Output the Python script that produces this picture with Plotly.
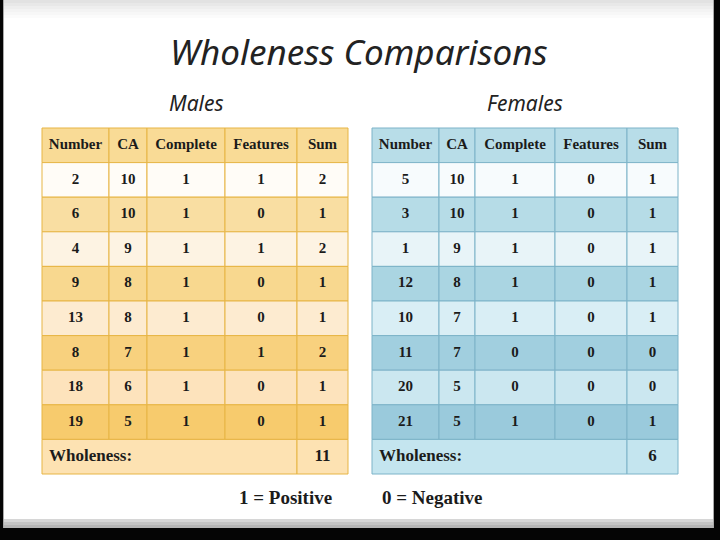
import plotly.graph_objects as go

# ---------------- data ----------------
columns = ["Number", "CA", "Complete", "Features", "Sum"]

male_number = [2, 6, 4, 9, 13, 8, 18, 19]
male_ca = [10, 10, 9, 8, 8, 7, 6, 5]
male_complete = [1, 1, 1, 1, 1, 1, 1, 1]
male_features = [1, 0, 1, 0, 0, 1, 0, 0]
male_sum = [2, 1, 2, 1, 1, 2, 1, 1]
male_wholeness = 11

female_number = [5, 3, 1, 12, 10, 11, 20, 21]
female_ca = [10, 10, 9, 8, 7, 7, 5, 5]
female_complete = [1, 1, 1, 1, 1, 0, 0, 1]
female_features = [0, 0, 0, 0, 0, 0, 0, 0]
female_sum = [1, 1, 1, 1, 1, 0, 0, 1]
female_wholeness = 6

title_text = "Wholeness Comparisons"
male_label = "Males"
female_label = "Females"
wholeness_label = "Wholeness:"
positive_note = "1 = Positive"
negative_note = "0 = Negative"

# ---------------- styles / layout ----------------
W, H = 720, 540
TOP = 128.0
ROW_H = 34.6
male_edges = [42, 109, 147, 225, 297, 348]
female_edges = [372, 439, 475, 555, 627, 678]

male_style = dict(
    header="#f9db96",
    rows=["#fffcf7", "#f9dea2", "#fdf3e3", "#f8d88f", "#fdebd0", "#f8d17e",
          "#fde3bc", "#f7cb6d"],
    total="#fde2b2",
    line="#e7b545",
)
female_style = dict(
    header="#b8dde8",
    rows=["#f7fbfd", "#b6dce7", "#e8f4f8", "#aad5e2", "#d9eef5", "#a1cfdf",
          "#cbe7f0", "#9acadc"],
    total="#c4e5ef",
    line="#7db3c8",
)

TEXT_FONT = "Liberation Serif"
TEXT_COLOR = "#1b1b1b"

fig = go.Figure()
shapes = []

# slide frame
shapes.append(dict(type="rect", xref="paper", yref="paper", x0=0, x1=1, y0=0, y1=1,
                   fillcolor="#050505", line=dict(width=0), layer="below"))
shapes.append(dict(type="rect", xref="x", yref="y", x0=3, x1=714, y0=0, y1=528,
                   fillcolor="#a9a9a9", line=dict(width=0), layer="below"))
shapes.append(dict(type="rect", xref="x", yref="y", x0=4, x1=713, y0=0, y1=522,
                   fillcolor="#ffffff", line=dict(width=0), layer="below"))
# top gray fade
fade = ["#e2e2e2", "#e8e8e8", "#eeeeee", "#f3f3f3", "#f7f7f7", "#fbfbfb"]
for i, c in enumerate(fade):
    shapes.append(dict(type="rect", xref="x", yref="y", x0=4, x1=713,
                       y0=i * 3, y1=i * 3 + 3, fillcolor=c, line=dict(width=0),
                       layer="below"))
# bottom shading
bot = ["#d6d6d6", "#c4c4c4", "#b5b5b5"]
for i, c in enumerate(bot):
    shapes.append(dict(type="rect", xref="x", yref="y", x0=4, x1=713,
                       y0=519 + i * 3, y1=522 + i * 3, fillcolor=c,
                       line=dict(width=0), layer="below"))


def draw_table(edges, style, cols, wholeness):
    nrows = len(cols[0])
    tx, ty, tt = [], [], []
    # header
    for c in range(5):
        y0 = TOP
        shapes.append(dict(type="rect", xref="x", yref="y", x0=edges[c], x1=edges[c + 1],
                           y0=y0, y1=y0 + ROW_H, fillcolor=style["header"],
                           line=dict(color=style["line"], width=1), layer="below"))
        tx.append((edges[c] + edges[c + 1]) / 2)
        ty.append(y0 + ROW_H / 2)
        tt.append(columns[c])
    # body
    for r in range(nrows):
        y0 = TOP + (r + 1) * ROW_H
        for c in range(5):
            shapes.append(dict(type="rect", xref="x", yref="y", x0=edges[c],
                               x1=edges[c + 1], y0=y0, y1=y0 + ROW_H,
                               fillcolor=style["rows"][r],
                               line=dict(color=style["line"], width=1), layer="below"))
            tx.append((edges[c] + edges[c + 1]) / 2)
            ty.append(y0 + ROW_H / 2)
            tt.append(str(cols[c][r]))
    # total row
    y0 = TOP + (nrows + 1) * ROW_H
    shapes.append(dict(type="rect", xref="x", yref="y", x0=edges[0], x1=edges[4],
                       y0=y0, y1=y0 + ROW_H, fillcolor=style["total"],
                       line=dict(color=style["line"], width=1), layer="below"))
    shapes.append(dict(type="rect", xref="x", yref="y", x0=edges[4], x1=edges[5],
                       y0=y0, y1=y0 + ROW_H, fillcolor=style["total"],
                       line=dict(color=style["line"], width=1), layer="below"))
    fig.add_trace(go.Scatter(x=tx, y=ty, text=tt, mode="text",
                             textfont=dict(family=TEXT_FONT, size=15, color=TEXT_COLOR,
                                           weight="bold"),
                             hoverinfo="skip", showlegend=False))
    fig.add_trace(go.Scatter(x=[edges[0] + 7], y=[y0 + ROW_H / 2], text=[wholeness_label],
                             mode="text", textposition="middle right",
                             textfont=dict(family=TEXT_FONT, size=17, color=TEXT_COLOR,
                                           weight="bold"),
                             hoverinfo="skip", showlegend=False))
    fig.add_trace(go.Scatter(x=[(edges[4] + edges[5]) / 2], y=[y0 + ROW_H / 2],
                             text=[str(wholeness)], mode="text",
                             textfont=dict(family=TEXT_FONT, size=17, color=TEXT_COLOR,
                                           weight="bold"),
                             hoverinfo="skip", showlegend=False))


draw_table(male_edges, male_style,
           [male_number, male_ca, male_complete, male_features, male_sum], male_wholeness)
draw_table(female_edges, female_style,
           [female_number, female_ca, female_complete, female_features, female_sum],
           female_wholeness)

annotations = [
    dict(x=359, y=51, text=title_text, showarrow=False, xref="x", yref="y",
         font=dict(family="Noto Sans", size=35, color="#222222", style="italic")),
    dict(x=196, y=103, text=male_label, showarrow=False, xref="x", yref="y",
         font=dict(family="Noto Sans", size=21, color="#222222", style="italic")),
    dict(x=525, y=103, text=female_label, showarrow=False, xref="x", yref="y",
         font=dict(family="Noto Sans", size=21, color="#222222", style="italic")),
    dict(x=285, y=497, text=positive_note, showarrow=False, xref="x", yref="y",
         font=dict(family=TEXT_FONT, size=19, color=TEXT_COLOR, weight="bold")),
    dict(x=432, y=497, text=negative_note, showarrow=False, xref="x", yref="y",
         font=dict(family=TEXT_FONT, size=19, color=TEXT_COLOR, weight="bold")),
]

fig.update_layout(
    width=W, height=H,
    margin=dict(l=0, r=0, t=0, b=0),
    paper_bgcolor="#050505", plot_bgcolor="rgba(0,0,0,0)",
    xaxis=dict(range=[0, W], visible=False, fixedrange=True),
    yaxis=dict(range=[H, 0], visible=False, fixedrange=True),
    shapes=shapes, annotations=annotations,
    showlegend=False,
)

fig.write_html("out.html", config=dict(displayModeBar=False),
               post_script="document.body.style.margin='0';document.body.style.overflow='hidden';")
